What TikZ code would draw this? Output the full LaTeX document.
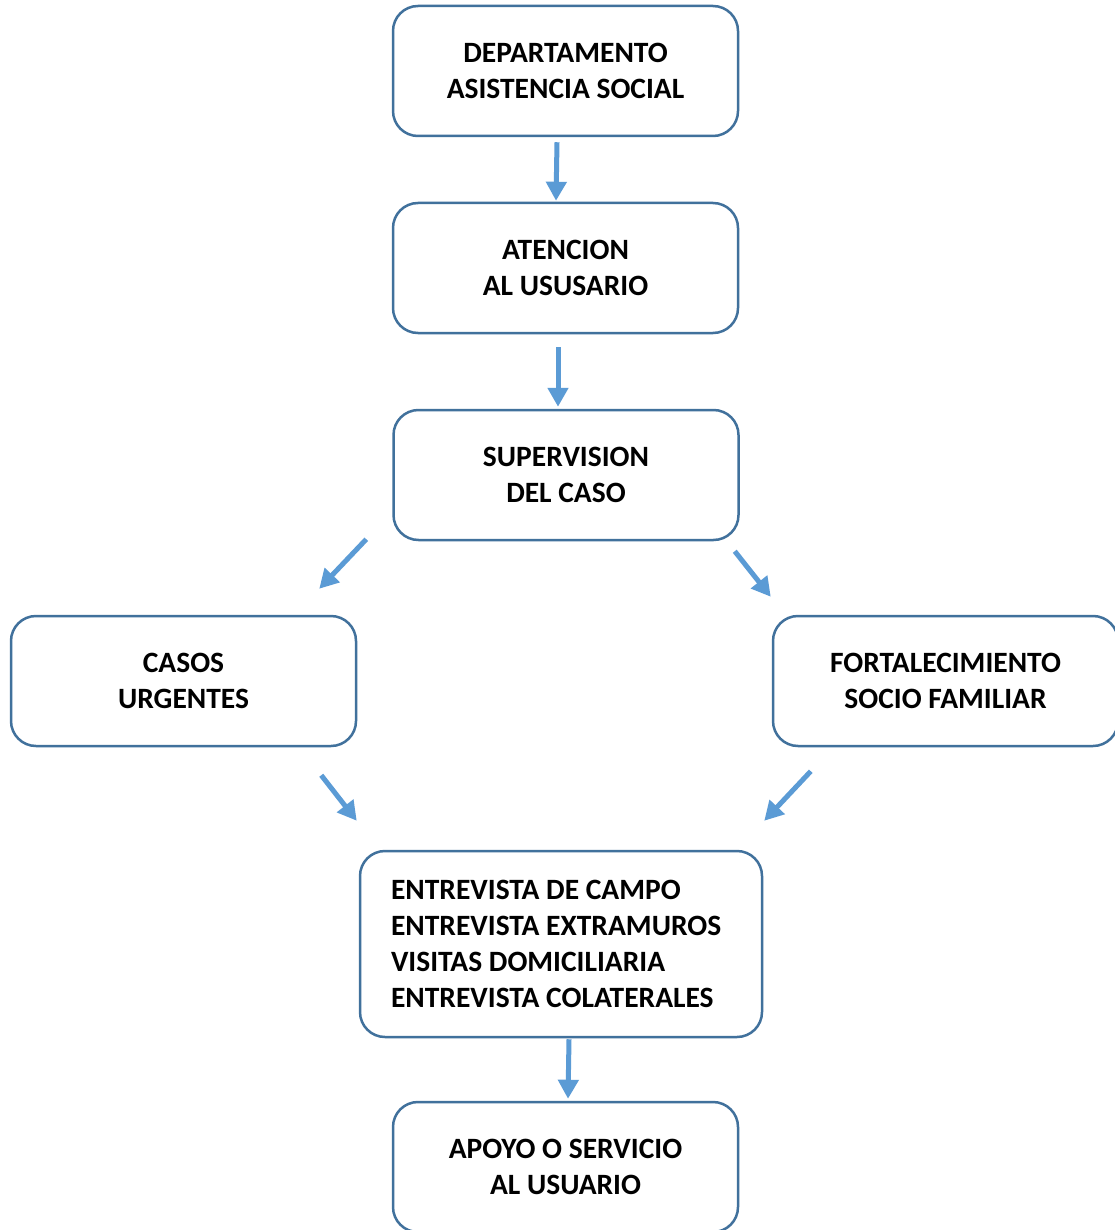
\documentclass[tikz,border=0pt]{standalone}
\usepackage{fontspec}
\setmainfont{Carlito}
\usetikzlibrary{arrows.meta}
\definecolor{boxline}{HTML}{41719C}
\definecolor{arrowblue}{HTML}{5B9BD5}
\tikzstyle{box} = [draw=boxline, line width=2.5pt, rounded corners=25pt, fill=white, minimum width=345pt, minimum height=130pt, align=center, font=\fontsize{29.5}{36}\selectfont\bfseries]
\tikzstyle{flow} = [draw=arrowblue, line width=5pt, -{Triangle[length=19pt,width=20pt]}]

\begin{document}
\begin{tikzpicture}[x=1pt, y=-1pt]
	\useasboundingbox[fill=white] (0,0) rectangle (1115,1230);

	\node[box] (departamento) at (565.5,71) {DEPARTAMENTO\\ASISTENCIA SOCIAL};
	\node[box] (atencion) at (565.5,268) {ATENCION\\AL USUSARIO};
	\node[box] (supervision) at (566,475) {SUPERVISION\\DEL CASO};
	\node[box] (casos) at (183.5,681) {CASOS\\URGENTES};
	\node[box] (fortalecimiento) at (945.5,681) {FORTALECIMIENTO\\SOCIO FAMILIAR};
	\node[box, align=flush left, text width=340pt, minimum width=402pt, minimum height=186pt] (entrevistas) at (561,944) {ENTREVISTA DE CAMPO\\ENTREVISTA EXTRAMUROS\\VISITAS DOMICILIARIA\\ENTREVISTA COLATERALES};
	\node[box] (apoyo) at (565.5,1167) {APOYO O SERVICIO\\AL USUARIO};

	\path[flow] ([xshift=-8.5pt,yshift=-5pt]departamento.south) -- ([xshift=-9.5pt,yshift=1pt]atencion.north);
	\path[flow] ([xshift=-7.5pt,yshift=-13pt]atencion.south) -- ([xshift=-8pt,yshift=2pt]supervision.north);
	\path[flow] ([xshift=-26pt,yshift=2pt]supervision.south west) -- ([xshift=-38pt,yshift=26pt]casos.north east);
	\path[flow] ([xshift=-5pt,yshift=-10pt]supervision.south east) -- ([xshift=-1pt,yshift=18pt]fortalecimiento.north west);
	\path[flow] ([xshift=-36pt,yshift=-28pt]casos.south east) -- ([xshift=-2pt,yshift=29pt]entrevistas.north west);
	\path[flow] ([xshift=39pt,yshift=-24pt]fortalecimiento.south west) -- ([xshift=1pt,yshift=29pt]entrevistas.north east);
	\path[flow] ([xshift=8pt,yshift=-1pt]entrevistas.south) -- ([xshift=2.5pt,yshift=2pt]apoyo.north);
\end{tikzpicture}
\end{document}
